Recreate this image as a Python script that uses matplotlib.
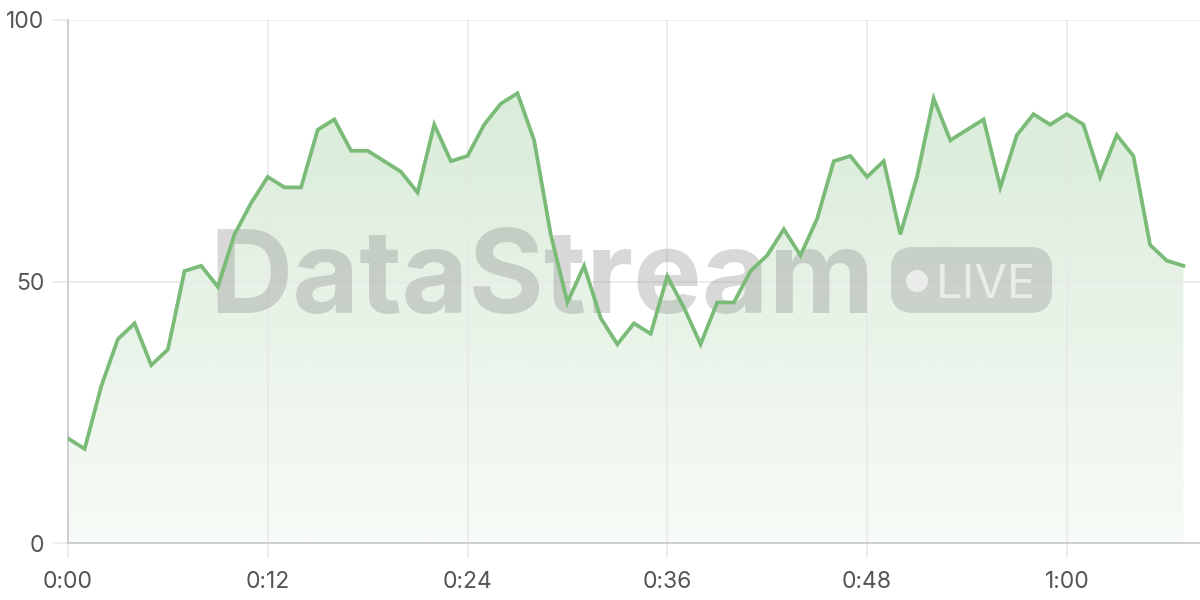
import numpy as np
import matplotlib.pyplot as plt
from matplotlib.patches import FancyBboxPatch, Circle
from matplotlib.transforms import IdentityTransform

plt.rcParams['font.family'] = ['Inter', 'DejaVu Sans']

# one reading per minute, 0:00 .. 1:07
minutes = list(range(68))
values = [20, 18, 30, 39, 42, 34, 37, 52, 53, 49,
          59, 65, 70, 68, 68, 79, 81, 75, 75, 73,
          71, 67, 80, 73, 74, 80, 84, 86, 77, 59,
          46, 53, 43, 38, 42, 40, 51, 45, 38, 46,
          46, 52, 55, 60, 55, 62, 73, 74, 70, 73,
          59, 70, 85, 77, 79, 81, 68, 78, 82, 80,
          82, 80, 70, 78, 74, 57, 54, 53]
x_ticks = [0, 12, 24, 36, 48, 60]
x_labels = ['0:00', '0:12', '0:24', '0:36', '0:48', '1:00']
y_ticks = [0, 50, 100]

line_color = '#79bb77'
grid_color = '#e8e8e8'
axis_color = '#cccccc'
text_color = '#555555'

fig = plt.figure(figsize=(12, 6), dpi=100)
ax = fig.add_axes([68 / 1200, 1 - 543 / 600, 1132 / 1200, 523 / 600])
ax.set_xlim(0, 68)
ax.set_ylim(0, 100)

# gradient area under the line
poly = ax.fill_between(minutes, values, 0, facecolor='none', edgecolor='none')
grad = np.zeros((256, 1, 4))
grad[:, :, :3] = np.array([121, 187, 119]) / 255
grad[:, 0, 3] = np.linspace(0.32, 0.06, 256)
im = ax.imshow(grad, extent=[0, 67, 0, 100], aspect='auto', origin='upper', zorder=1)
im.set_clip_path(poly.get_paths()[0], ax.transData)

ax.plot(minutes, values, color=line_color, lw=2.7, zorder=4, solid_joinstyle='miter')

# grid and axes
ax.set_xticks(x_ticks)
ax.set_xticklabels(x_labels)
ax.set_yticks(y_ticks)
ax.grid(True, color=grid_color, lw=1.1, zorder=0)
for s in ['top', 'right']:
    ax.spines[s].set_visible(False)
for s in ['left', 'bottom']:
    ax.spines[s].set_color(axis_color)
    ax.spines[s].set_linewidth(1.3)
ax.tick_params(axis='both', length=11, width=1.1, color=grid_color,
               labelcolor=text_color, labelsize=16.5)
ax.tick_params(axis='x', pad=9)
ax.tick_params(axis='y', pad=6)

# watermark
tr = IdentityTransform()
ax.text(209, 287, 'DataStream', transform=tr, fontsize=83, fontweight='bold',
        color='#808080', alpha=0.3, ha='left', va='baseline', zorder=3, clip_on=False)
pill = FancyBboxPatch((891, 287), 161, 66, boxstyle='round,pad=0,rounding_size=22',
                      transform=tr, facecolor='#8a8a8a', edgecolor='none', alpha=0.3,
                      zorder=3, clip_on=False)
ax.add_patch(pill)
ax.add_patch(Circle((917, 319), 11, transform=tr, facecolor='white', alpha=0.6,
                    edgecolor='none', zorder=3, clip_on=False))
ax.text(936, 302, 'LIVE', transform=tr, fontsize=34, color='white', alpha=0.6,
        ha='left', va='baseline', zorder=3, clip_on=False)

fig.savefig('out.png', dpi=100)
